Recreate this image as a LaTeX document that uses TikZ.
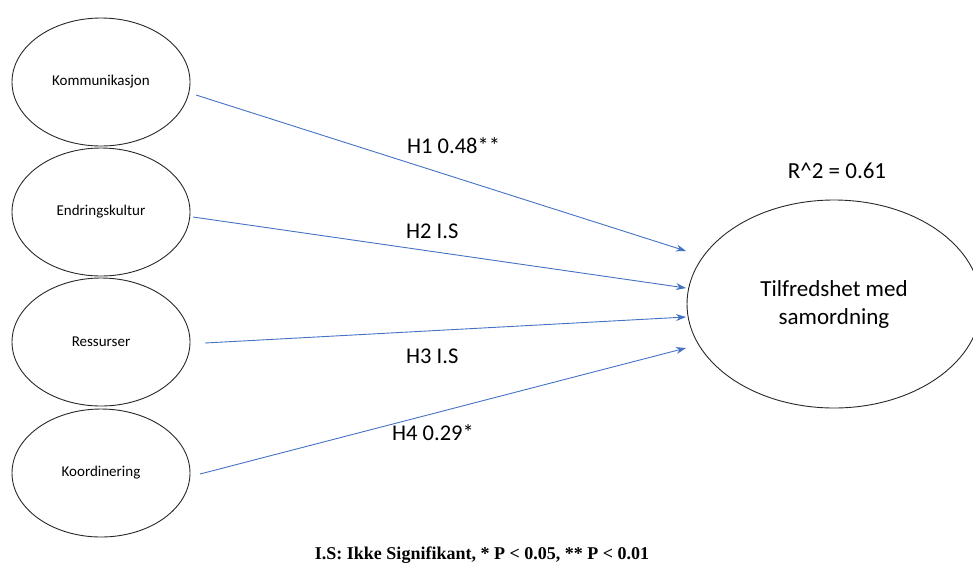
\documentclass[tikz,border=0pt]{standalone}
\usepackage{fontspec}
\setmainfont{Carlito}
\newfontfamily\footfont{Liberation Serif}
\usetikzlibrary{arrows.meta,shapes.geometric}
\definecolor{arrowblue}{RGB}{68,114,196}
\definecolor{edgegray}{RGB}{40,40,40}
\tikzset{
  latent/.style={ellipse, draw=edgegray, line width=0.9pt, minimum width=178pt, minimum height=128pt, inner sep=0pt, font=\fontsize{15}{17}\selectfont},
  target/.style={ellipse, draw=edgegray, line width=0.9pt, minimum width=294pt, minimum height=208pt, inner sep=0pt, align=center, font=\fontsize{23}{28}\selectfont},
  path/.style={draw=arrowblue, line width=0.9pt, -{Stealth[length=10pt,width=7pt]}},
  plabel/.style={font=\fontsize{22.5}{24}\selectfont, anchor=base west, inner sep=0pt},
}
\begin{document}
\begin{tikzpicture}[x=1pt,y=-1pt]
\useasboundingbox (0,0) rectangle (973,563);
\node[latent] (k1) at (101,82) {Kommunikasjon};
\node[latent] (k2) at (101,212) {Endringskultur};
\node[latent] (k3) at (101,342) {Ressurser};
\node[latent] (k4) at (101,473) {Koordinering};
\node[target] (t) at (834,304) {Tilfredshet med\\samordning};
\node[font=\fontsize{23}{25}\selectfont, anchor=base, inner sep=0pt] (r2) at (837,178) {R\textasciicircum 2 = 0.61};
\coordinate (e1) at (686,251);
\coordinate (e2) at (686,288);
\coordinate (e3) at (686,317);
\coordinate (e4) at (686,348);
\coordinate (s1) at (196,95);
\coordinate (s2) at (193,217);
\coordinate (s3) at (205,343);
\coordinate (s4) at (200,474);
\draw[path] (s1) -- (e1);
\draw[path] (s2) -- (e2);
\draw[path] (s3) -- (e3);
\draw[path] (s4) -- (e4);
\node[plabel] (h1) at (407,153) {H1 0.48**};
\node[plabel] (h2) at (406,238) {H2 I.S};
\node[plabel] (h3) at (406,363) {H3 I.S};
\node[plabel] (h4) at (392,440) {H4 0.29*};
\node[font=\footfont\bfseries\fontsize{18}{20}\selectfont, anchor=base, inner sep=0pt] (foot) at (482,559) {I.S: Ikke Signifikant, * P < 0.05, ** P < 0.01};
\end{tikzpicture}
\end{document}
